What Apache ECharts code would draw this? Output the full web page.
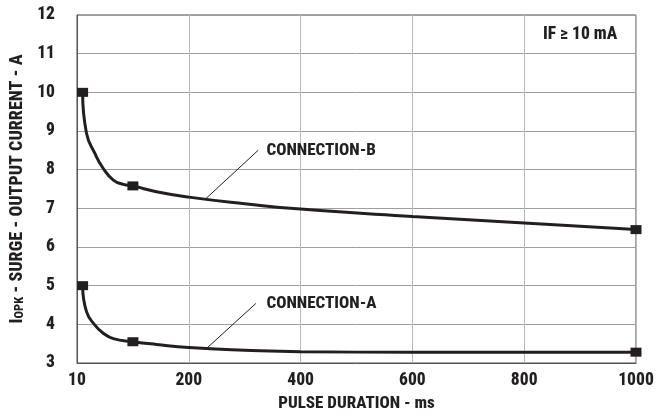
<!DOCTYPE html>
<html>
<head>
<meta charset="utf-8">
<script src="https://cdn.jsdelivr.net/npm/echarts@6/dist/echarts.min.js"></script>
<style>
html,body{margin:0;padding:0;background:#fff;}
#c{width:665px;height:419px;}
</style>
</head>
<body>
<div id="c"></div>
<script>
// ---- data ----
const xTickLabels = ['10', '200', '400', '600', '800', '1000'];
const yMin = 3, yMax = 12;

// Connection-B curve (pulse duration ms, surge current A)
const curveBX = [10, 17, 32, 47, 65, 83, 100, 142, 200, 300, 400, 600, 800, 1000];
const curveBY = [10.0, 8.94, 8.42, 8.03, 7.73, 7.62, 7.58, 7.43, 7.29, 7.12, 6.98, 6.79, 6.62, 6.45];
// Connection-A curve
const curveAX = [10, 17, 32, 47, 65, 100, 142, 200, 300, 400, 600, 800, 1000];
const curveAY = [5.0, 4.33, 3.98, 3.77, 3.63, 3.55, 3.48, 3.40, 3.33, 3.29, 3.28, 3.28, 3.28];

// measured points (square markers)
const markBX = [10, 100, 1000];
const markBY = [10.0, 7.58, 6.45];
const markAX = [10, 100, 1000];
const markAY = [5.0, 3.55, 3.28];

// annotations
const labelB = 'CONNECTION-B';
const labelA = 'CONNECTION-A';
const leaderB = [[229, 7.23], [324, 8.50]];
const leaderA = [[232, 3.38], [320, 4.54]];
const labelBPos = [339, 8.50];
const labelAPos = [339, 4.54];
const conditionText = 'IF \u2265 10 mA';
const conditionPos = [900, 11.5];

const FONT = '"Noto Sans Condensed", "Roboto Condensed", "Liberation Sans Narrow", "DejaVu Sans Condensed", sans-serif';
const INK = '#231f20';
const W = 800;

function pairs(xs, ys) { return xs.map((x, i) => [x, ys[i]]); }

const chart = echarts.init(document.getElementById('c'), null, { renderer: 'canvas' });

const textStyleBase = { fontFamily: FONT, fontWeight: W, color: INK };

chart.setOption({
  animation: false,
  backgroundColor: '#ffffff',
  grid: {
    left: 77, right: 29, top: 15, bottom: 56,
    show: true, borderColor: '#4a4a4a', borderWidth: 1, backgroundColor: 'transparent'
  },
  xAxis: {
    type: 'value', min: 0, max: 1000, interval: 200,
    name: 'PULSE DURATION - ms',
    nameLocation: 'middle', nameGap: 32,
    nameTextStyle: Object.assign({ fontSize: 17 }, textStyleBase),
    axisLine: { show: true, lineStyle: { color: '#555', width: 1 } },
    axisTick: { show: false },
    axisLabel: Object.assign({
      fontSize: 17.5, margin: 9,
      formatter: v => xTickLabels[Math.round(v / 200)]
    }, textStyleBase),
    splitLine: { show: true, lineStyle: { color: '#b9b9b9', width: 1 } }
  },
  yAxis: {
    type: 'value', min: yMin, max: yMax, interval: 1,
    name: '{a|I}{s|OPK}{a| - SURGE - OUTPUT CURRENT - A}',
    nameLocation: 'middle', nameGap: 47, nameRotate: 90,
    nameTextStyle: {
      fontFamily: FONT, fontWeight: W, color: INK,
      rich: {
        a: { fontFamily: FONT, fontWeight: W, color: INK, fontSize: 18, verticalAlign: 'bottom' },
        s: { fontFamily: FONT, fontWeight: W, color: INK, fontSize: 12.5, verticalAlign: 'bottom' }
      }
    },
    axisLine: { show: true, lineStyle: { color: '#555', width: 1 } },
    axisTick: { show: false },
    axisLabel: Object.assign({ fontSize: 17.5, margin: 22 }, textStyleBase),
    splitLine: { show: true, lineStyle: { color: '#9e9e9e', width: 1 } }
  },
  series: [
    {
      name: 'Connection-B', type: 'line',
      data: pairs(curveBX, curveBY),
      smooth: 0.5,
      showSymbol: false, symbol: 'none',
      lineStyle: { color: INK, width: 3 },
      z: 3,
      markLine: {
        silent: true, symbol: ['none', 'none'],
        lineStyle: { color: INK, width: 1, type: 'solid' },
        label: { show: false },
        data: [[{ coord: leaderB[0] }, { coord: leaderB[1] }]]
      },
      markPoint: {
        silent: true, symbol: 'circle', symbolSize: 0,
        data: [
          { coord: labelBPos, label: { show: true, position: 'right', distance: 0, formatter: labelB, fontSize: 17, fontFamily: FONT, fontWeight: W, color: INK } },
          { coord: conditionPos, label: { show: true, position: 'inside', formatter: conditionText, fontSize: 17.5, fontFamily: FONT, fontWeight: W, color: INK } }
        ]
      }
    },
    {
      name: 'Connection-A', type: 'line',
      data: pairs(curveAX, curveAY),
      smooth: 0.5,
      showSymbol: false, symbol: 'none',
      lineStyle: { color: INK, width: 3 },
      z: 3,
      markLine: {
        silent: true, symbol: ['none', 'none'],
        lineStyle: { color: INK, width: 1, type: 'solid' },
        label: { show: false },
        data: [[{ coord: leaderA[0] }, { coord: leaderA[1] }]]
      },
      markPoint: {
        silent: true, symbol: 'circle', symbolSize: 0,
        data: [
          { coord: labelAPos, label: { show: true, position: 'right', distance: 0, formatter: labelA, fontSize: 17, fontFamily: FONT, fontWeight: W, color: INK } }
        ]
      }
    },
    {
      name: 'B points', type: 'scatter',
      data: pairs(markBX, markBY),
      symbol: 'rect', symbolSize: [11, 9],
      itemStyle: { color: INK, opacity: 1 },
      z: 4
    },
    {
      name: 'A points', type: 'scatter',
      data: pairs(markAX, markAY),
      symbol: 'rect', symbolSize: [11, 9],
      itemStyle: { color: INK, opacity: 1 },
      z: 4
    }
  ]
});
</script>
</body>
</html>
